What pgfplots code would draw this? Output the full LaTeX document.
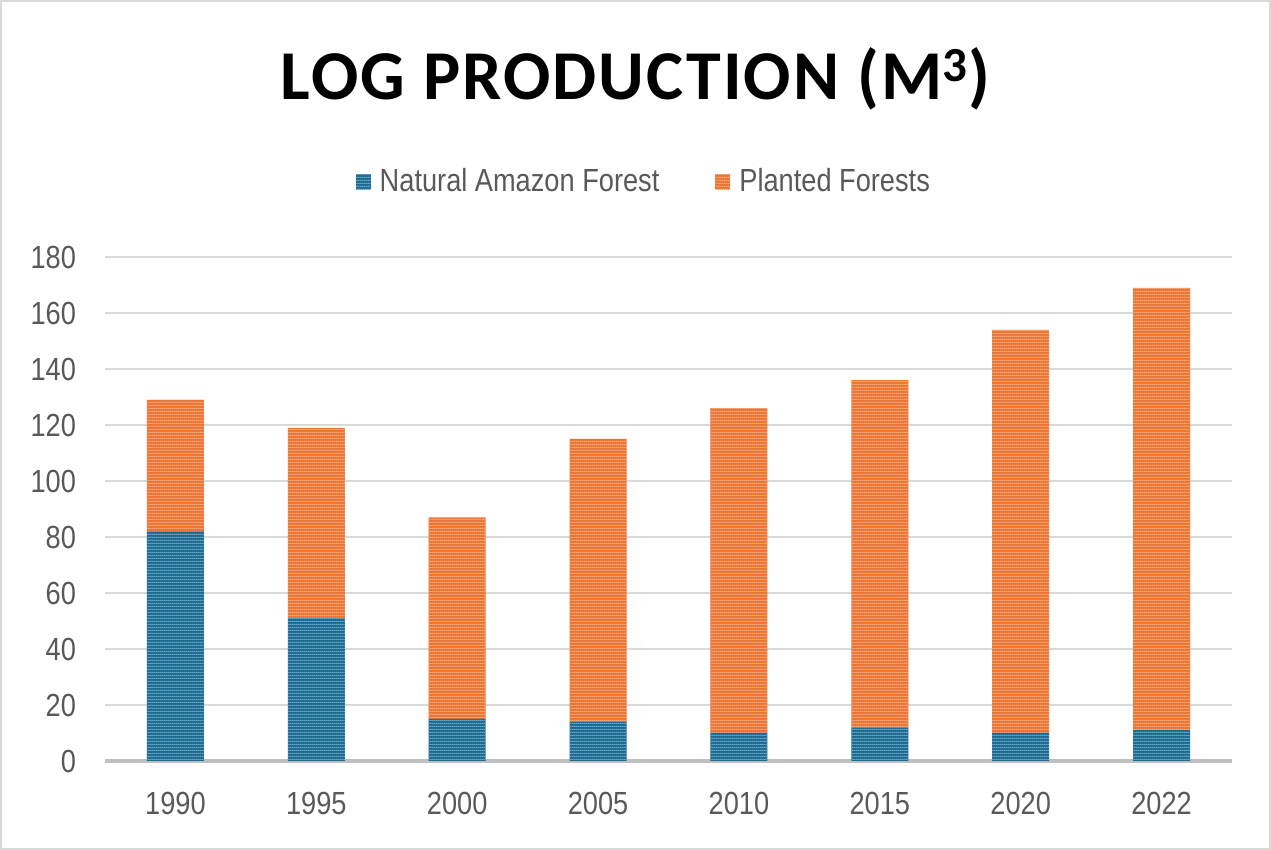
\documentclass[border=0pt]{standalone}
\usepackage{fontspec}
\setmainfont{Liberation Sans}
\newfontfamily\titlefont[LetterSpace=3]{Carlito}
\newfontfamily\narrowfont[FakeStretch=0.85]{Liberation Sans}
\usepackage{pgfplots}
\pgfplotsset{compat=1.18}
\usepackage{pgfplotstable}
\usetikzlibrary{patterns.meta}
\definecolor{nblue}{HTML}{1D6A90}
\definecolor{nbluelight}{HTML}{6AA6C6}
\definecolor{porange}{HTML}{EC7533}
\definecolor{porangelight}{HTML}{F5A577}
\definecolor{textgray}{HTML}{595959}
\definecolor{gridgray}{HTML}{D9D9D9}
\definecolor{basegray}{HTML}{BFBFBF}
\definecolor{framegray}{HTML}{D9D9D9}
\tikzdeclarepattern{
  name=hstripes,
  type=uncolored,
  bounding box={(0pt,0pt) and (1pt,1.5pt)},
  tile size={(1pt,1.5pt)},
  code={\draw[line width=0.6pt] (-0.2pt,0.45pt) -- (1.2pt,0.45pt);}
}
\pgfplotstableread{
x natural planted
0 82 47
1 51 68
2 15 72
3 14 101
4 10 116
5 12 124
6 10 144
7 11 158
}\datatable
\begin{document}
\begin{tikzpicture}
\draw[framegray, line width=1pt] (-52pt,-44pt) rectangle (582.5pt,380pt);
\begin{axis}[
  at={(0pt,0pt)}, anchor=south west,
  scale only axis, width=563.5pt, height=252pt,
  ybar stacked, bar width=28.5pt,
  xmin=-0.5, xmax=7.5, ymin=0, ymax=180,
  xtick={0,...,7},
  xticklabels={1990,1995,2000,2005,2010,2015,2020,2022},
  ytick={0,20,...,180},
  ymajorgrids, grid style={draw=gridgray, line width=1pt},
  axis x line*=bottom, axis y line*=left,
  y axis line style={draw=none},
  x axis line style={draw=basegray, line width=1.6pt, -},
  major tick length=0pt,
  /pgf/number format/assume math mode=true,
  tick label style={font=\narrowfont\fontsize{16}{18}\selectfont, text=textgray},
  yticklabel style={xshift=-11pt},
  xticklabel style={yshift=-12pt},
  legend style={at={(0.479,1.149)}, anchor=center, draw=none, fill=none,
    legend columns=2, font=\narrowfont\fontsize{16}{18}\selectfont, text=textgray,
    /tikz/every even column/.append style={column sep=26pt},
    legend cell align=left},
  legend image code/.code={\draw[#1, draw=none] (0pt,-3.8pt) rectangle (7.5pt,3.8pt);\path (10pt,0pt);},
  clip=false,
]
\addplot[fill=nblue, draw=none, postaction={pattern={hstripes}, pattern color=nbluelight}] table[x=x, y=natural] {\datatable};
\addplot[fill=porange, draw=none, postaction={pattern={hstripes}, pattern color=porangelight}] table[x=x, y=planted] {\datatable};
\legend{Natural Amazon Forest, Planted Forests}
\end{axis}
\node[anchor=base, font=\titlefont\bfseries\fontsize{35}{40}\selectfont, inner sep=0pt] at (265.25pt,330.5pt) {LOG PRODUCTION (M\textsuperscript{3})};
\end{tikzpicture}
\end{document}
